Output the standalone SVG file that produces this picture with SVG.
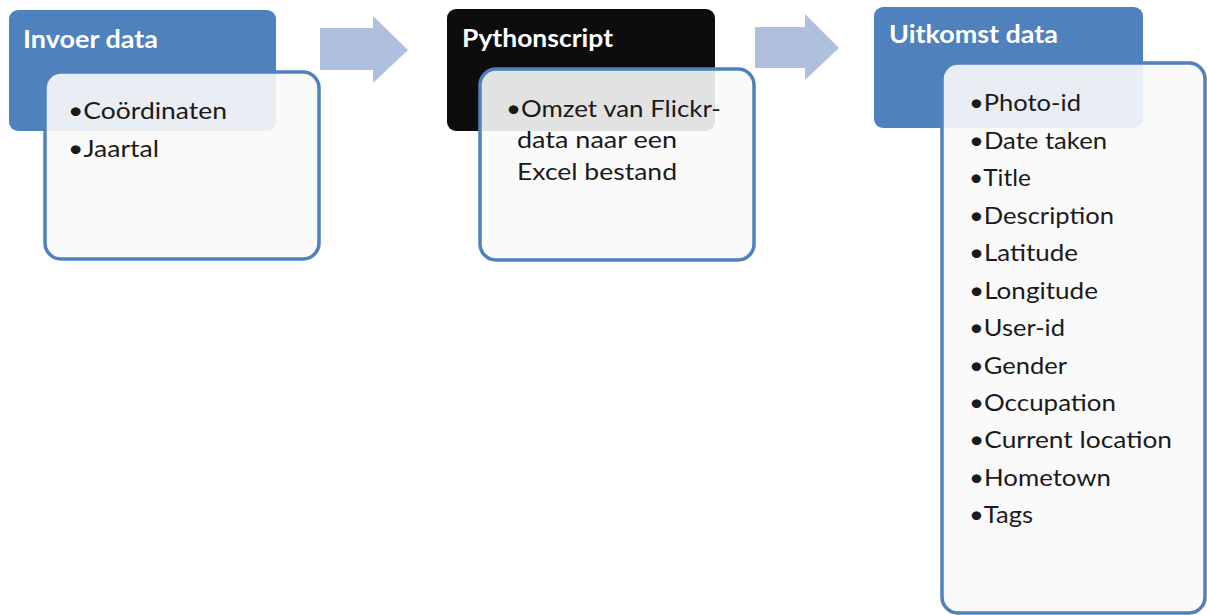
<svg xmlns="http://www.w3.org/2000/svg" width="1207" height="615" viewBox="0 0 1207 615">
<style>
.hdr{stroke:none}
.blue{fill:#4F81BD}
.black{fill:#0D0D0D}
.body{fill:#FAFAFA;fill-opacity:0.9;stroke:#4F81BD;stroke-width:3.5}
.ht{font-family:Lato,"Liberation Sans",sans-serif;font-weight:bold;font-size:24px;fill:#FFFFFF}
.bt{font-family:Lato,"Liberation Sans",sans-serif;font-size:23px;fill:#1A1A1A}
.arrow{fill:#AFC0DE}
</style>
<rect width="1207" height="615" fill="#FFFFFF"/>
<g id="connectors">
<polygon class="arrow" points="320,28 373,28 373,16 408,50 373,83 373,70 320,70"/>
<polygon class="arrow" points="755,27 805,27 805,14 839,48 805,80 805,68 755,68"/>
</g>
<g id="node-invoer">
<rect class="hdr blue" x="9" y="10" width="267" height="121" rx="9"/>
<text class="ht" x="23" y="48" textLength="135" lengthAdjust="spacingAndGlyphs">Invoer data</text>
<rect class="body" x="45" y="72" width="274" height="187" rx="16"/>
<text class="bt" x="68" y="119" textLength="159" lengthAdjust="spacingAndGlyphs">•Coördinaten</text>
<text class="bt" x="68" y="157" textLength="91" lengthAdjust="spacingAndGlyphs">•Jaartal</text>
</g>
<g id="node-python">
<rect class="hdr black" x="447" y="9" width="268" height="122" rx="9"/>
<text class="ht" x="462" y="47" textLength="151" lengthAdjust="spacingAndGlyphs">Pythonscript</text>
<rect class="body" x="480" y="69" width="274" height="191" rx="16"/>
<text class="bt" x="506" y="117" textLength="215" lengthAdjust="spacingAndGlyphs">•Omzet van Flickr-</text>
<text class="bt" x="517" y="148" textLength="160" lengthAdjust="spacingAndGlyphs">data naar een</text>
<text class="bt" x="517" y="180" textLength="160" lengthAdjust="spacingAndGlyphs">Excel bestand</text>
</g>
<g id="node-uitkomst">
<rect class="hdr blue" x="874" y="7" width="269" height="121" rx="9"/>
<text class="ht" x="889" y="43" textLength="169" lengthAdjust="spacingAndGlyphs">Uitkomst data</text>
<rect class="body" x="942" y="63" width="263" height="550" rx="16"/>
<text class="bt" x="969" y="111" textLength="112" lengthAdjust="spacingAndGlyphs">•Photo-id</text>
<text class="bt" x="969" y="148.5" textLength="138" lengthAdjust="spacingAndGlyphs">•Date taken</text>
<text class="bt" x="969" y="186" textLength="62" lengthAdjust="spacingAndGlyphs">•Title</text>
<text class="bt" x="969" y="223.5" textLength="145" lengthAdjust="spacingAndGlyphs">•Description</text>
<text class="bt" x="969" y="261" textLength="109" lengthAdjust="spacingAndGlyphs">•Latitude</text>
<text class="bt" x="969" y="298.5" textLength="129" lengthAdjust="spacingAndGlyphs">•Longitude</text>
<text class="bt" x="969" y="336" textLength="96" lengthAdjust="spacingAndGlyphs">•User-id</text>
<text class="bt" x="969" y="373.5" textLength="98" lengthAdjust="spacingAndGlyphs">•Gender</text>
<text class="bt" x="969" y="411" textLength="147" lengthAdjust="spacingAndGlyphs">•Occupation</text>
<text class="bt" x="969" y="448" textLength="203" lengthAdjust="spacingAndGlyphs">•Current location</text>
<text class="bt" x="969" y="486" textLength="142" lengthAdjust="spacingAndGlyphs">•Hometown</text>
<text class="bt" x="969" y="523" textLength="64" lengthAdjust="spacingAndGlyphs">•Tags</text>
</g>
</svg>
